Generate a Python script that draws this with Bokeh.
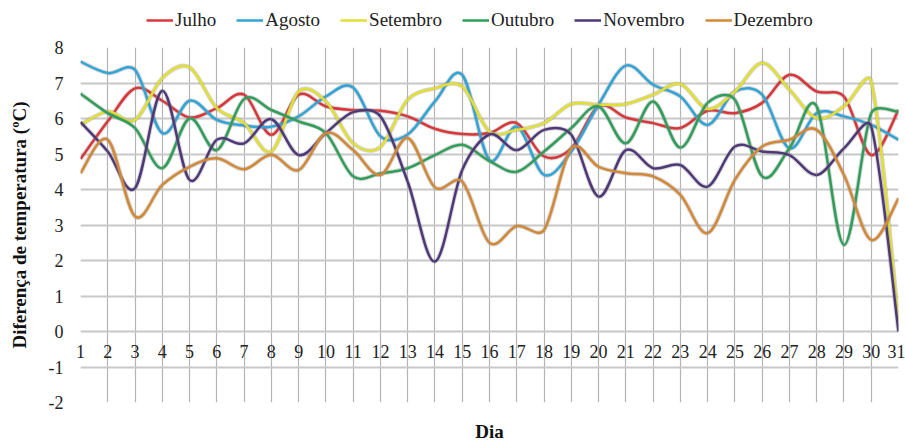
import math
from bokeh.plotting import figure
from bokeh.layouts import column
from bokeh.models import (Range1d, FixedTicker, Legend, LegendItem)
from bokeh.embed import file_html
from bokeh.resources import INLINE

dias = list(range(1, 32))
tick_y = list(range(-2, 9))

julho = [4.86, 5.92, 6.85, 6.5, 6.03, 6.29, 6.67, 5.54, 6.67, 6.34, 6.24, 6.22, 6.06, 5.71, 5.56,
         5.59, 5.87, 4.93, 5.16, 6.34, 6.03, 5.87, 5.73, 6.22, 6.15, 6.44, 7.23, 6.76, 6.62, 4.97, 6.24]
agosto = [7.6, 7.28, 7.37, 5.59, 6.5, 5.96, 5.8, 5.77, 6.06, 6.62, 6.87, 5.5, 5.55, 6.48, 7.23,
          4.83, 5.77, 4.41, 5.07, 6.39, 7.49, 6.95, 6.62, 5.82, 6.76, 6.67, 5.16, 6.15, 6.06, 5.82, 5.4]
setembro = [5.82, 6.2, 5.96, 7.14, 7.44, 6.29, 5.87, 5.07, 6.76, 6.48, 5.3, 5.2, 6.53, 6.85, 6.9,
            5.63, 5.68, 5.87, 6.41, 6.39, 6.41, 6.67, 6.97, 6.27, 6.76, 7.56, 6.81, 6.01, 6.34, 7.04, 0.3]
outubro = [6.7, 6.15, 5.73, 4.6, 6.0, 5.11, 6.55, 6.24, 5.92, 5.59, 4.37, 4.45, 4.6, 4.97, 5.26,
           4.8, 4.5, 5.07, 5.73, 6.34, 5.3, 6.48, 5.18, 6.44, 6.53, 4.37, 5.16, 6.34, 2.44, 6.15, 6.19]
novembro = [5.9, 5.07, 4.04, 6.78, 4.27, 5.4, 5.3, 5.98, 4.97, 5.59, 6.18, 6.06, 4.22, 1.97, 4.55,
            5.55, 5.11, 5.68, 5.54, 3.8, 5.11, 4.6, 4.69, 4.08, 5.21, 5.07, 4.97, 4.41, 5.16, 5.77, 0.0]
dezembro = [4.46, 5.4, 3.24, 4.13, 4.64, 4.88, 4.57, 4.98, 4.55, 5.59, 5.11, 4.41, 5.45, 4.06, 4.22,
            2.5, 2.97, 2.86, 5.16, 4.64, 4.46, 4.37, 3.85, 2.77, 4.27, 5.21, 5.4, 5.68, 4.41, 2.58, 3.75]

series = [("Julho", julho, "#d9363a"), ("Agosto", agosto, "#2fa4d6"),
          ("Setembro", setembro, "#e2df33"), ("Outubro", outubro, "#2f9e58"),
          ("Novembro", novembro, "#4e3878"), ("Dezembro", dezembro, "#d38836")]

FONT = "Liberation Serif"

p = figure(width=905, height=404, output_backend="svg", toolbar_location=None,
           x_range=Range1d(1, 31), y_range=Range1d(-2, 8),
           min_border_left=80, min_border_right=7, min_border_top=7, min_border_bottom=42)
p.outline_line_color = None
p.background_fill_color = "white"

# approximate screen scale (px per unit) used only to shape the smoothing
SX, SY = 27.27, 35.5


def smooth_segments(xs, ys, t=1.0 / 6.0, cap=0.4):
    """Catmull-Rom style Bezier smoothing, control offsets capped by chord length."""
    n = len(xs)
    px = [x * SX for x in xs]
    py = [y * SY for y in ys]
    out = dict(x0=[], y0=[], x1=[], y1=[], cx0=[], cy0=[], cx1=[], cy1=[])
    for i in range(n - 1):
        a, b = max(i - 1, 0), min(i + 2, n - 1)
        chord = math.hypot(px[i + 1] - px[i], py[i + 1] - py[i])
        o0x, o0y = (px[i + 1] - px[a]) * t, (py[i + 1] - py[a]) * t
        o1x, o1y = (px[b] - px[i]) * t, (py[b] - py[i]) * t
        l0, l1 = math.hypot(o0x, o0y), math.hypot(o1x, o1y)
        if l0 > cap * chord and l0 > 0:
            f = cap * chord / l0; o0x *= f; o0y *= f
        if l1 > cap * chord and l1 > 0:
            f = cap * chord / l1; o1x *= f; o1y *= f
        out["x0"].append(xs[i]); out["y0"].append(ys[i])
        out["x1"].append(xs[i + 1]); out["y1"].append(ys[i + 1])
        out["cx0"].append((px[i] + o0x) / SX); out["cy0"].append((py[i] + o0y) / SY)
        out["cx1"].append((px[i + 1] - o1x) / SX); out["cy1"].append((py[i + 1] - o1y) / SY)
    return out


for name, vals, color in series:
    seg = smooth_segments(dias, vals)
    p.bezier(source=seg, x0="x0", y0="y0", x1="x1", y1="y1", cx0="cx0", cy0="cy0",
             cx1="cx1", cy1="cy1", line_color="#8c8c8c", line_alpha=0.35, line_width=4.5)
    p.bezier(source=seg, x0="x0", y0="y0", x1="x1", y1="y1", cx0="cx0", cy0="cy0",
             cx1="cx1", cy1="cy1", line_color=color, line_width=2.5)

# grids
p.ygrid.ticker = FixedTicker(ticks=tick_y)
p.ygrid.grid_line_color = "#c8c8c8"
p.ygrid.grid_line_width = 2

# bottom axis: day numbers pulled up under the zero line, title "Dia" at the bottom
xax = p.xaxis[0]
xax.ticker = FixedTicker(ticks=dias)
xax.axis_line_color = None
xax.major_tick_line_color = None
xax.minor_tick_line_color = None
xax.major_tick_out = 0
xax.major_tick_in = 0
xax.major_label_standoff = -58
xax.major_label_text_font = FONT
xax.major_label_text_font_size = "18px"
xax.major_label_text_color = "#222222"
xax.axis_label = "Dia"
xax.axis_label_standoff = 60
xax.axis_label_text_font = FONT
xax.axis_label_text_font_size = "19px"
xax.axis_label_text_font_style = "bold"
xax.axis_label_text_color = "#111111"

p.xgrid.grid_line_color = "#b4b4b4"
p.xgrid.grid_line_width = 1.2

yax = p.yaxis[0]
yax.ticker = FixedTicker(ticks=tick_y)
yax.major_label_overrides = {t: str(t) for t in tick_y}
yax.axis_line_color = None
yax.major_tick_line_color = None
yax.minor_tick_line_color = None
yax.major_tick_out = 0
yax.major_label_standoff = 17
yax.major_label_text_font = FONT
yax.major_label_text_font_size = "18px"
yax.major_label_text_color = "#222222"
yax.axis_label = "Diferença de temperatura (ºC)"
yax.axis_label_text_font = FONT
yax.axis_label_text_font_size = "19px"
yax.axis_label_text_font_style = "bold"
yax.axis_label_text_color = "#111111"
yax.axis_label_standoff = 16

# legend strip on top
lg = figure(width=905, height=40, output_backend="svg", toolbar_location=None,
            x_range=Range1d(0, 1), y_range=Range1d(0, 1),
            min_border_left=0, min_border_right=0, min_border_top=0, min_border_bottom=0,
            x_axis_location=None, y_axis_location=None)
lg.outline_line_color = None
lg.xgrid.visible = False
lg.ygrid.visible = False
items = []
for name, vals, color in series:
    # off-range stand-in line, used only to give the legend its swatch
    r = lg.line(x=[-2, -1], y=[-2, -1], line_color=color, line_width=2.5)
    items.append(LegendItem(label=name, renderers=[r]))
legend = Legend(items=items, orientation="horizontal", location=(66, 9),
                label_text_font=FONT, label_text_font_size="19px", label_text_color="#222222",
                glyph_width=27, glyph_height=20, label_standoff=2, spacing=20,
                padding=0, margin=0, border_line_color=None, background_fill_alpha=0)
lg.add_layout(legend)

layout = column(lg, p, spacing=0)
open("out.html", "w").write(file_html(layout, INLINE))
